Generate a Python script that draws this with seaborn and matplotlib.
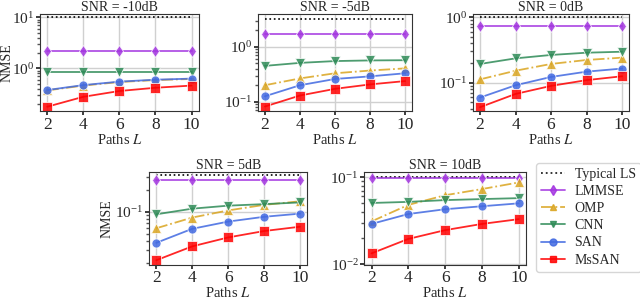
import numpy as np
import pandas as pd
import seaborn as sns
import matplotlib.pyplot as plt
from matplotlib.lines import Line2D

PATHS = [2, 4, 6, 8, 10]
SNR_TITLES = ["SNR = -10dB", "SNR = -5dB", "SNR = 0dB", "SNR = 5dB", "SNR = 10dB"]
METHODS = ["Typical LS", "LMMSE", "OMP", "CNN", "SAN", "MsSAN"]

# NMSE per SNR panel, one list per method (values across paths L = 2..10)
LS = [10.0, 3.16, 1.0, 0.316, 0.1]
LMMSE = [2.2, 1.68, 0.736, 0.274, 0.099]
OMP = [
    [0.37, 0.46, 0.54, 0.59, 0.62],
    [0.20, 0.266, 0.33, 0.37, 0.405],
    [0.112, 0.152, 0.193, 0.222, 0.241],
    [0.060, 0.084, 0.105, 0.125, 0.140],
    [0.031, 0.048, 0.062, 0.073, 0.087],
]
CNN = [
    [0.86, 0.86, 0.86, 0.86, 0.86],
    [0.45, 0.51, 0.55, 0.565, 0.57],
    [0.193, 0.235, 0.265, 0.287, 0.297],
    [0.093, 0.111, 0.122, 0.128, 0.135],
    [0.0505, 0.052, 0.0545, 0.056, 0.0574],
]
SAN = [
    [0.376, 0.47, 0.55, 0.60, 0.63],
    [0.126, 0.20, 0.26, 0.29, 0.33],
    [0.059, 0.091, 0.122, 0.147, 0.164],
    [0.038, 0.059, 0.074, 0.086, 0.095],
    [0.029, 0.0377, 0.0428, 0.0463, 0.050],
]
MSSAN = [
    [0.177, 0.277, 0.36, 0.417, 0.46],
    [0.082, 0.13, 0.172, 0.207, 0.238],
    [0.042, 0.067, 0.089, 0.109, 0.125],
    [0.022, 0.034, 0.045, 0.055, 0.063],
    [0.0133, 0.0195, 0.0246, 0.029, 0.0329],
]
YLIMS = [(0.146, 11.6), (0.068, 3.93), (0.0367, 1.12), (0.019, 0.352), (0.0098, 0.115)]

STYLES = {
    "Typical LS": dict(color="black", linestyle=":", marker=None),
    "LMMSE": dict(color="#A335E0", linestyle="-", marker="d"),
    "OMP": dict(color="#DAA520", linestyle="-.", marker="^"),
    "CNN": dict(color="#2E8B57", linestyle="-", marker="v"),
    "SAN": dict(color="#4169E1", linestyle="-", marker="o"),
    "MsSAN": dict(color="#FF0000", linestyle="-", marker="s"),
}

sns.set_theme(style="whitegrid")
plt.rcParams["font.family"] = ["Liberation Serif", "DejaVu Serif"]
plt.rcParams["mathtext.fontset"] = "stix"

fig = plt.figure(figsize=(6.4, 3.0), dpi=100)
positions = [
    (0.0625, 0.63, 0.248, 0.323),
    (0.403, 0.63, 0.241, 0.323),
    (0.739, 0.63, 0.244, 0.323),
    (0.233, 0.117, 0.247, 0.31),
    (0.569, 0.117, 0.253, 0.31),
]
YLABEL_X = {0: -0.168, 3: -0.225}

for i, pos in enumerate(positions):
    ax = fig.add_axes(pos)
    rows = []
    for j, L in enumerate(PATHS):
        rows.append(("Typical LS", L, LS[i]))
        rows.append(("LMMSE", L, LMMSE[i]))
        rows.append(("OMP", L, OMP[i][j]))
        rows.append(("CNN", L, CNN[i][j]))
        rows.append(("SAN", L, SAN[i][j]))
        rows.append(("MsSAN", L, MSSAN[i][j]))
    df = pd.DataFrame(rows, columns=["method", "L", "nmse"])

    for m in METHODS:
        st = STYLES[m]
        sub = df[df["method"] == m]
        if m == "Typical LS":
            sns.lineplot(data=sub, x="L", y="nmse", ax=ax, color=st["color"],
                         linestyle=":", linewidth=1.2, estimator=None)
        else:
            sns.lineplot(data=sub, x="L", y="nmse", ax=ax, color=st["color"],
                         linestyle=st["linestyle"], marker=st["marker"],
                         markersize=6.5, linewidth=1.3, markeredgewidth=0.6,
                         alpha=0.85, estimator=None)

    ax.set_yscale("log")
    ax.set_ylim(*YLIMS[i])
    ax.set_xlim(1.6, 10.4)
    ax.set_xticks(PATHS)
    ax.grid(True, which="major", color="#d0d0d0", linewidth=1.0)
    ax.grid(False, which="minor")
    for s in ax.spines.values():
        s.set_color("#333333")
        s.set_linewidth(0.8)
    ax.tick_params(axis="x", which="major", labelsize=12.5, length=3,
                   bottom=True, pad=1)
    ax.tick_params(axis="y", which="major", labelsize=11, length=3,
                   left=True, pad=1)
    ax.tick_params(axis="y", which="minor", length=2, left=True, color="#555555")
    ax.set_title(SNR_TITLES[i], fontsize=10, pad=2)
    ax.set_xlabel("Paths $L$", fontsize=10.5, labelpad=0)
    if i in YLABEL_X:
        ax.set_ylabel("NMSE", fontsize=10)
        ax.yaxis.set_label_coords(YLABEL_X[i], 0.5)
    else:
        ax.set_ylabel("")

handles = []
for m in METHODS:
    st = STYLES[m]
    handles.append(Line2D([], [], color=st["color"], linestyle=st["linestyle"],
                          marker=st["marker"], markersize=5, linewidth=1.3,
                          alpha=0.85))
fig.legend(handles, METHODS, loc="lower left", bbox_to_anchor=(0.838, 0.095),
           fontsize=10, frameon=True, edgecolor="#cccccc", handlelength=1.7,
           borderpad=0.35, labelspacing=0.3, handletextpad=0.7,
           borderaxespad=0)

fig.savefig("out.png", dpi=100)
